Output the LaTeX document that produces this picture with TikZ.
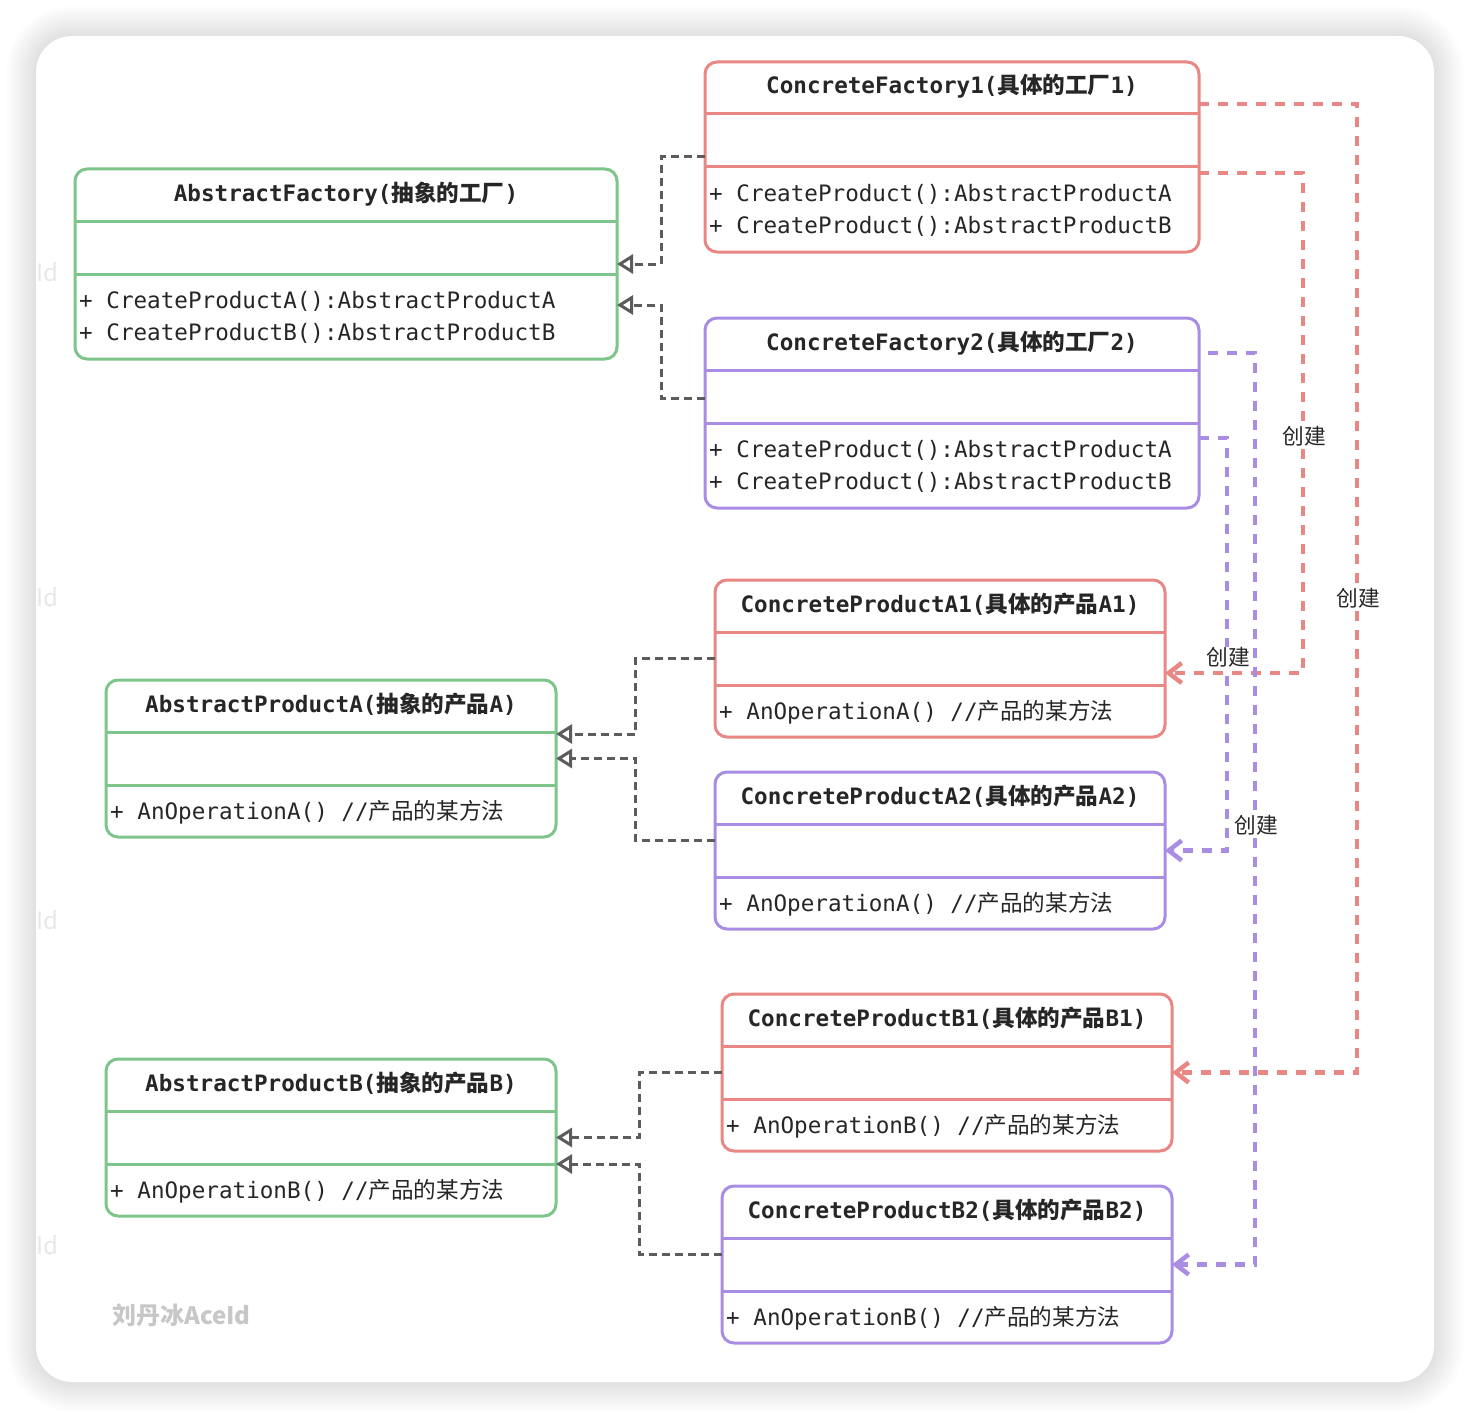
\documentclass[tikz,border=0pt]{standalone}
\usepackage{fontspec}
\setmonofont{DejaVu Sans Mono}
\newfontfamily\cjkfont{Noto Sans CJK SC}
\usetikzlibrary{arrows.meta,calc}
\definecolor{cgreen}{HTML}{7DC58A}
\definecolor{cred}{HTML}{E98784}
\definecolor{cpurple}{HTML}{A98CE3}
\definecolor{cgray}{HTML}{5C5C5C}
\definecolor{ctext}{HTML}{262626}
\newcommand{\cz}[1]{{\cjkfont #1}}
\tikzset{
  umlframe/.style={draw, line width=3pt, rounded corners=12pt, anchor=north west, inner sep=0pt, outer sep=0pt, fill=white},
  divider/.style={line width=3pt},
  ttl/.style={font=\fontsize{22.6pt}{27pt}\selectfont\ttfamily\bfseries, text=ctext, anchor=base, inner sep=0pt},
  bdy/.style={font=\fontsize{22.6pt}{27pt}\selectfont\ttfamily, text=ctext, anchor=base west, inner sep=0pt},
  realize/.style={draw=cgray, line width=3pt, dash pattern=on 8pt off 5pt, -{Triangle[open, length=16pt, width=19pt]}},
  createline/.style={line width=4.5pt, dash pattern=on 10pt off 9pt, -{Straight Barb[length=13pt, width=20pt]}},
  lbl/.style={font=\cjkfont\fontsize{21.7pt}{24pt}\selectfont, text=ctext, fill=white, inner sep=1pt, text height=17pt, text depth=2.5pt},
  wmfaint/.style={font=\cjkfont\fontsize{24pt}{28pt}\selectfont, text=black!9, inner sep=0pt},
}
\newcommand{\umlbox}[6]{%
  \node[umlframe, draw=#2, minimum width=#5pt, minimum height=#6pt] (#1) at (#3,#4) {};
  \draw[divider, draw=#2] ([yshift=-52pt]#1.north west) -- ([yshift=-52pt]#1.north east);
  \draw[divider, draw=#2] ([yshift=-105pt]#1.north west) -- ([yshift=-105pt]#1.north east);
}
\begin{document}
\begin{tikzpicture}[x=1pt,y=-1pt]
\useasboundingbox (0,0) rectangle (1470,1418);
\fill[white] (0,0) rectangle (1470,1418);
% shadow
\foreach \k in {1,...,30}{
  \pgfmathsetmacro\rr{36+\k}
  \fill[black, opacity=0.0045, rounded corners=\rr pt] (36-\k,36-\k) rectangle (1434+\k,1382+\k);
}
\fill[white, rounded corners=36pt] (36,36) rectangle (1434,1382);
\node[wmfaint] (wm1) at (47,272) {Id};
\node[wmfaint] (wm2) at (47,597) {Id};
\node[wmfaint] (wm3) at (47,920) {Id};
\node[wmfaint] (wm4) at (47,1245) {Id};
\node[font=\cjkfont\bfseries\fontsize{24pt}{28pt}\selectfont, text=black!22, anchor=base west, inner sep=0pt] (wmk) at (112,1324) {刘丹冰AceId};

% boxes
\umlbox{cf1}{cred}{705}{62}{494}{190}
\umlbox{af}{cgreen}{75}{169}{542}{190}
\umlbox{cf2}{cpurple}{705}{318}{494}{190}
\umlbox{cpa1}{cred}{715}{580}{450}{157}
\umlbox{apa}{cgreen}{106}{680}{450}{157}
\umlbox{cpa2}{cpurple}{715}{772}{450}{157}
\umlbox{cpb1}{cred}{722}{994}{450}{157}
\umlbox{apb}{cgreen}{106}{1059}{450}{157}
\umlbox{cpb2}{cpurple}{722}{1186}{450}{157}

% titles
\node[ttl] (cf1t) at ([yshift=-32pt]cf1.north) {ConcreteFactory1(\cz{具体的工厂}1)};
\node[ttl] (aft) at ([yshift=-32pt]af.north) {AbstractFactory(\cz{抽象的工厂})};
\node[ttl] (cf2t) at ([yshift=-32pt]cf2.north) {ConcreteFactory2(\cz{具体的工厂}2)};
\node[ttl] (cpa1t) at ([yshift=-32pt]cpa1.north) {ConcreteProductA1(\cz{具体的产品}A1)};
\node[ttl] (apat) at ([yshift=-32pt]apa.north) {AbstractProductA(\cz{抽象的产品}A)};
\node[ttl] (cpa2t) at ([yshift=-32pt]cpa2.north) {ConcreteProductA2(\cz{具体的产品}A2)};
\node[ttl] (cpb1t) at ([yshift=-32pt]cpb1.north) {ConcreteProductB1(\cz{具体的产品}B1)};
\node[ttl] (apbt) at ([yshift=-32pt]apb.north) {AbstractProductB(\cz{抽象的产品}B)};
\node[ttl] (cpb2t) at ([yshift=-32pt]cpb2.north) {ConcreteProductB2(\cz{具体的产品}B2)};

% bodies
\node[bdy] (cf1a) at ([xshift=4pt,yshift=-139.5pt]cf1.north west) {+ CreateProduct():AbstractProductA};
\node[bdy] (cf1b) at ([xshift=4pt,yshift=-171.5pt]cf1.north west) {+ CreateProduct():AbstractProductB};
\node[bdy] (afa) at ([xshift=4pt,yshift=-139.5pt]af.north west) {+ CreateProductA():AbstractProductA};
\node[bdy] (afb) at ([xshift=4pt,yshift=-171.5pt]af.north west) {+ CreateProductB():AbstractProductB};
\node[bdy] (cf2a) at ([xshift=4pt,yshift=-139.5pt]cf2.north west) {+ CreateProduct():AbstractProductA};
\node[bdy] (cf2b) at ([xshift=4pt,yshift=-171.5pt]cf2.north west) {+ CreateProduct():AbstractProductB};
\node[bdy] (cpa1a) at ([xshift=4pt,yshift=-139.5pt]cpa1.north west) {+ AnOperationA() //\cz{产品的某方法}};
\node[bdy] (apaa) at ([xshift=4pt,yshift=-139.5pt]apa.north west) {+ AnOperationA() //\cz{产品的某方法}};
\node[bdy] (cpa2a) at ([xshift=4pt,yshift=-139.5pt]cpa2.north west) {+ AnOperationA() //\cz{产品的某方法}};
\node[bdy] (cpb1a) at ([xshift=4pt,yshift=-139.5pt]cpb1.north west) {+ AnOperationB() //\cz{产品的某方法}};
\node[bdy] (apba) at ([xshift=4pt,yshift=-139.5pt]apb.north west) {+ AnOperationB() //\cz{产品的某方法}};
\node[bdy] (cpb2a) at ([xshift=4pt,yshift=-139.5pt]cpb2.north west) {+ AnOperationB() //\cz{产品的某方法}};

% realization connectors
\coordinate (cf2g) at ([yshift=15pt]cf2.west);
\coordinate (afg2) at ([yshift=-41pt]af.east);
\coordinate (apag1) at ([yshift=24.5pt]apa.east);
\coordinate (cpa2g) at ([yshift=10.5pt]cpa2.west);
\coordinate (cpb2g) at ([yshift=10.5pt]cpb2.west);
\coordinate (apbg2) at ([yshift=-26.5pt]apb.east);
\draw[realize] (cf1.west) -| ($(cf1.west)!.5!(af.east)$) |- (af.east);
\draw[realize] (cf2g) -| ($(cf2g)!.5!(afg2)$) |- (afg2);
\draw[realize] (cpa1.west) -| ($(cpa1.west)!.5!(apag1)$) |- (apag1);
\draw[realize] (cpa2g) -| ($(cpa2g)!.5!(apa.east)$) |- (apa.east);
\draw[realize] (cpb1.west) -| ($(cpb1.west)!.5!(apb.east)$) |- (apb.east);
\draw[realize] (cpb2g) -| ($(cpb2g)!.5!(apbg2)$) |- (apbg2);

% create connectors
\coordinate (r1) at (1357,104);
\coordinate (r2) at (1303,173);
\coordinate (p1) at (1255,353);
\coordinate (p2) at (1227,438);
\draw[createline, draw=cred] ([yshift=53pt]cf1.east) -- (r1) |- (cpb1.east);
\draw[createline, draw=cred] ([yshift=-16pt]cf1.east) -- (r2) |- ([yshift=-14.5pt]cpa1.east);
\draw[createline, draw=cpurple, dash phase=10pt] ([yshift=60pt]cf2.east) -- (p1) |- (cpb2.east);
\draw[createline, draw=cpurple] ([yshift=-25pt]cf2.east) -- (p2) |- (cpa2.east);

\node[lbl] (l1) at (1304,437) {创建};
\node[lbl] (l2) at (1358,599) {创建};
\node[lbl] (l3) at (1228,658) {创建};
\node[lbl] (l4) at (1256,826) {创建};
\end{tikzpicture}
\end{document}
